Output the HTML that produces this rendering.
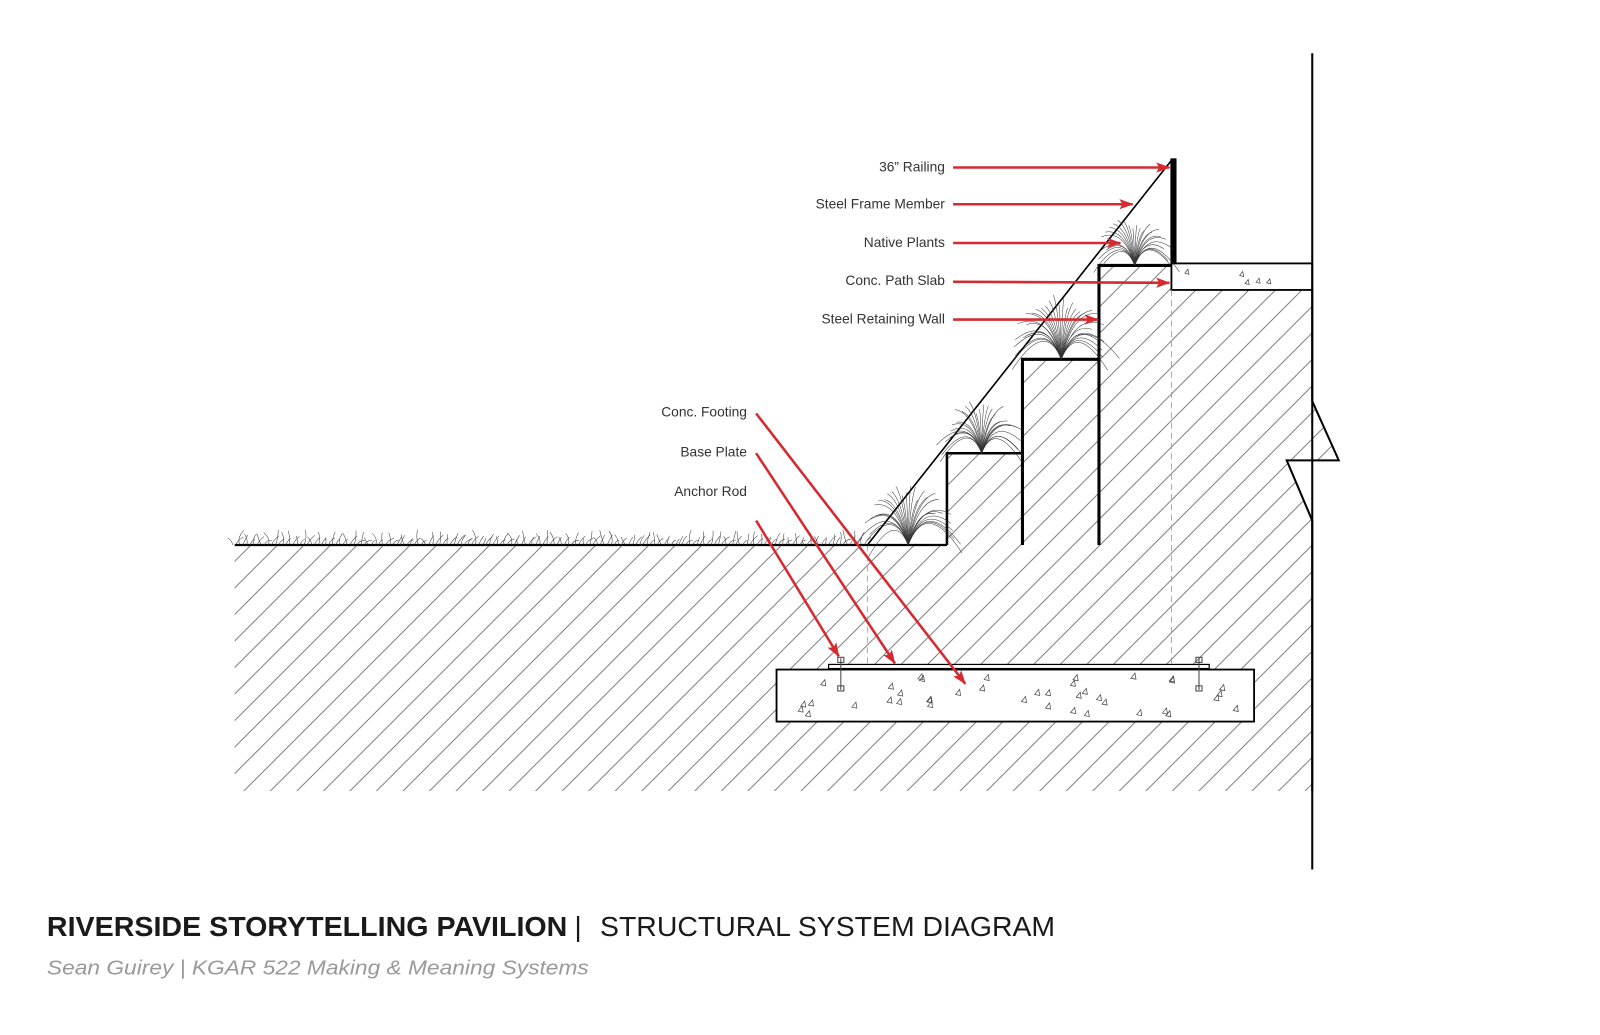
<!DOCTYPE html>
<html><head><meta charset="utf-8"><style>
html,body{margin:0;padding:0;background:#fff;width:1600px;height:1035px;overflow:hidden}
svg{display:block}
text{font-family:"Liberation Sans",sans-serif}
</style></head><body>
<svg id="s" width="1600" height="1035" viewBox="0 0 1568 1014" xmlns="http://www.w3.org/2000/svg">
<defs>
<pattern id="h" patternUnits="userSpaceOnUse" width="26" height="26">
<path d="M-6,32 L32,-6 M-32,32 L6,-6 M20,32 L58,-6" stroke="#666" stroke-width="0.8"/>
</pattern>
<marker id="a" markerWidth="14" markerHeight="10" refX="13" refY="5" orient="auto" markerUnits="userSpaceOnUse">
<path d="M0,0 L14,5 L0,10 L3,5 z" fill="#d42a30"/>
</marker>
</defs>
<polygon points="230,534 928,534 928,444 1002,444 1002,352 1077,352 1077,260 1148,260 1148,284 1286,284 1286,393 1312,451 1261,451 1286,510 1286,775 230,775" fill="url(#h)"/>
<rect x="761" y="656" width="468" height="51" fill="#fff" stroke="#000" stroke-width="1.8"/>
<rect x="812" y="651" width="373" height="4" fill="#fff" stroke="#000" stroke-width="1.2"/>
<g stroke="#444" stroke-width="1" fill="none">
<line x1="824" y1="645" x2="824" y2="676"/><rect x="821" y="644" width="6" height="5"/><rect x="821" y="672" width="6" height="5"/>
<line x1="1175" y1="645" x2="1175" y2="676"/><rect x="1172" y="644" width="6" height="5"/><rect x="1172" y="672" width="6" height="5"/>
</g>
<rect x="1148" y="258" width="138" height="26" fill="#fff" stroke="#000" stroke-width="1.8"/>
<line x1="850" y1="534" x2="850" y2="650" stroke="#999" stroke-dasharray="6,4" stroke-width="0.8"/>
<line x1="1148" y1="284" x2="1148" y2="650" stroke="#999" stroke-dasharray="6,4" stroke-width="0.8"/>
<g id="agg" fill="none" stroke="#444" stroke-width="0.7"></g>
<g stroke="#000" fill="none">
<line x1="1286" y1="52" x2="1286" y2="852" stroke-width="2"/>
<polyline points="1286,284 1286,393 1312,451 1261,451 1286,510 1286,775" stroke-width="2"/>
<line x1="230" y1="534" x2="928" y2="534" stroke-width="2.2"/>
<polyline points="928,534 928,444 1002,444" stroke-width="2.5"/>
<polyline points="1002,534 1002,352 1077,352" stroke-width="3"/>
<polyline points="1077,534 1077,260 1148,260" stroke-width="3"/>
<line x1="850" y1="534" x2="1148" y2="157" stroke-width="1.6"/>
<line x1="1150" y1="155" x2="1150" y2="258" stroke-width="6"/>
</g>
<g id="plants" fill="none" stroke="#333" stroke-width="0.5"></g>
<g stroke="#d42a30" stroke-width="2.5" marker-end="url(#a)">
<line x1="934" y1="164" x2="1146" y2="164"/>
<line x1="934" y1="200" x2="1110" y2="200"/>
<line x1="934" y1="238" x2="1098" y2="238"/>
<line x1="934" y1="276" x2="1146" y2="277"/>
<line x1="934" y1="313" x2="1076" y2="313"/>
<line x1="741" y1="405" x2="946" y2="670"/>
<line x1="741" y1="444" x2="877" y2="650"/>
<line x1="741" y1="510" x2="822" y2="643"/>
</g>
<g font-size="13.5" fill="#333" text-anchor="end">
<text x="926" y="168">36” Railing</text>
<text x="926" y="204">Steel Frame Member</text>
<text x="926" y="242">Native Plants</text>
<text x="926" y="279">Conc. Path Slab</text>
<text x="926" y="317">Steel Retaining Wall</text>
<text x="732" y="408">Conc. Footing</text>
<text x="732" y="447">Base Plate</text>
<text x="732" y="486">Anchor Rod</text>
</g>
<text x="46" y="917" font-size="27" font-weight="bold" fill="#1a1a1a" textLength="510" lengthAdjust="spacingAndGlyphs">RIVERSIDE STORYTELLING PAVILION</text>
<text x="563" y="917" font-size="27" fill="#1a1a1a">|</text>
<text x="588" y="917" font-size="27" fill="#1a1a1a" textLength="446" lengthAdjust="spacingAndGlyphs">STRUCTURAL SYSTEM DIAGRAM</text>
<text x="46" y="955" font-size="20" font-style="italic" fill="#999" textLength="531" lengthAdjust="spacingAndGlyphs">Sean Guirey  |  KGAR 522 Making &amp; Meaning Systems</text>
</svg>
<script>
var NS="http://www.w3.org/2000/svg";
var seed=7;function r(){seed=(seed*16807)%2147483647;return seed/2147483647;}
var P=document.getElementById("plants"),A=document.getElementById("agg");
function path(g,d){var p=document.createElementNS(NS,"path");p.setAttribute("d",d);g.appendChild(p);}
function tuft(cx,by,h,w,n){for(var i=0;i<n;i++){var t=(i/(n-1))*2-1;var ang=t*1.35;var L=h*(0.75+0.3*r());
var ex=cx+Math.sin(ang)*L*1.1*(w/h);var ey=by-Math.cos(ang)*L;var mx=cx+Math.sin(ang)*L*0.3;var my=by-L*0.75;
ey+=Math.abs(t)*Math.abs(t)*h*0.35;
path(P,"M"+cx+","+by+" Q"+mx+","+my+" "+ex.toFixed(1)+","+ey.toFixed(1));}}
tuft(890,534,60,48,30);tuft(962,444,52,44,28);tuft(1040,352,62,52,32);tuft(1112,260,48,40,26);
for(var x=228;x<850;x+=7){var h=6+r()*9;path(P,"M"+x+",534 q"+((r()-.5)*6)+","+(-h/2)+" "+((r()-.5)*10)+","+(-h));path(P,"M"+(x+3)+",534 q2,-5 "+(4+r()*4)+",-"+(4+r()*6));}
for(var i=0;i<40;i++){var x=772+r()*445,y=664+r()*38;path(A,"M"+x+","+y+" l4,-5 l1,6 z");}
for(var i=0;i<5;i++){var x=1160+r()*115,y=266+r()*14;path(A,"M"+x+","+y+" l3,-4 l1,5 z");}
</script>
</body></html>
